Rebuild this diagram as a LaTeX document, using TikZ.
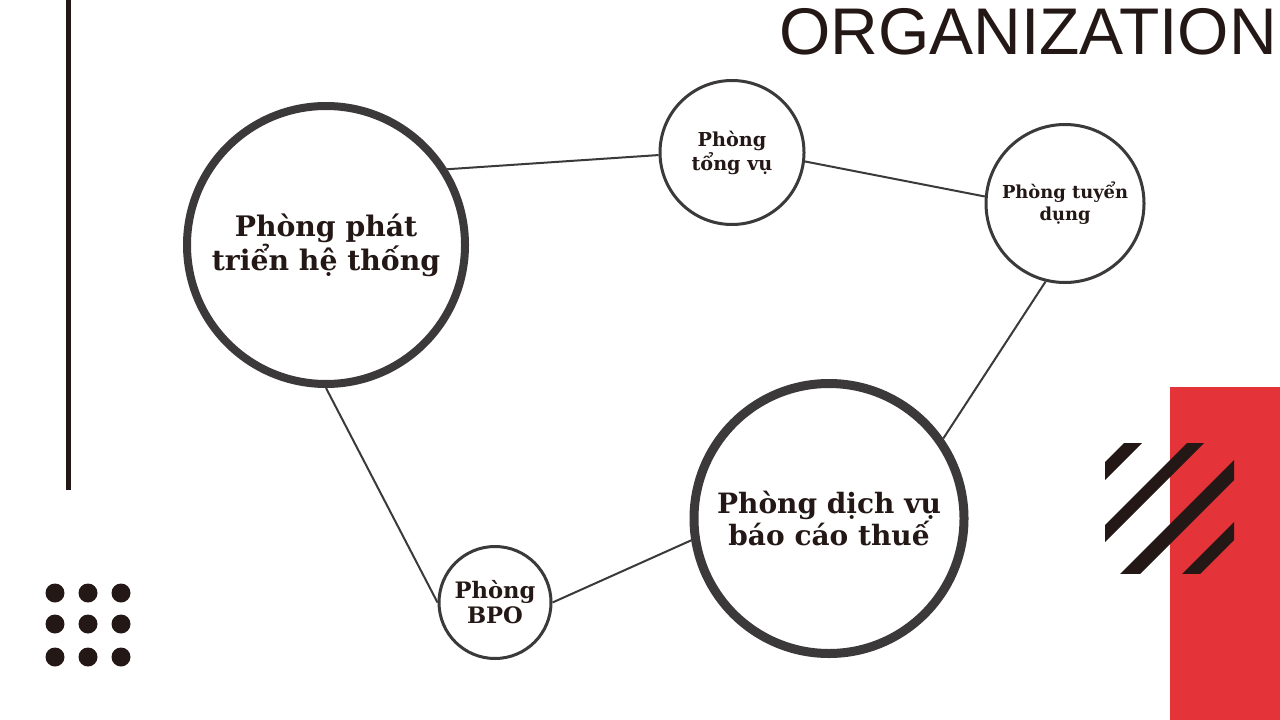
\documentclass[tikz,border=0pt]{standalone}
\usepackage{fontspec}
\usepackage{xcolor}
\usepackage{tikz}
\setmainfont{DejaVu Serif}
\newfontfamily\headfont{Liberation Sans}
\definecolor{inkdark}{HTML}{231815}
\definecolor{ringgray}{HTML}{3B393A}
\definecolor{accentred}{HTML}{E5333A}
\def\dept#1{\textbf{#1}}

\begin{document}
\begin{tikzpicture}[x=0.75pt,y=-0.75pt]
    \tikzstyle{every node}=[text=inkdark]
    \tikzstyle{bigunit}=[circle,draw=ringgray,inner sep=0pt,align=center]
    \tikzstyle{smallunit}=[circle,draw=ringgray,line width=2.25pt,inner sep=0pt,align=center]
    \tikzstyle{link}=[draw=ringgray,line width=1.5pt]
    \useasboundingbox[fill=white] (0,0) rectangle (1280,720);
    \fill[accentred] (1170,387) rectangle (1280,720);
    \draw[inkdark,line width=3.75pt] (68.5,0) -- (68.5,490);
    \foreach \px in {55,88,121}
      \foreach \py in {593,624,657}
        \fill[inkdark] (\px,\py) circle (9.5);
    \begin{scope}
      \clip (1105,443) rectangle (1234,573);
      \foreach \lo/\hi in {1567/1585,1630/1647,1694/1714,1756/1774}
        \fill[inkdark] (\lo-600,600) -- (\lo-400,400) -- (\hi-400,400) -- (\hi-600,600) -- cycle;
    \end{scope}
    \node[anchor=base east,inner sep=0pt,font=\headfont\fontsize{49.5}{52}\selectfont] (title)
      at (1277,54.5) {ORGANIZATION};
    \node[bigunit,line width=6pt,minimum size=208.5pt,font=\fontsize{21.2}{22.5}\selectfont] (dev)
      at (326,245) {\dept{Phòng phát}\\\dept{triển hệ thống}};
    \node[smallunit,minimum size=108pt,font=\fontsize{14.4}{18}\selectfont] (general)
      at (732,152.5) {\dept{Phòng}\\\dept{tổng vụ}};
    \node[smallunit,minimum size=118.5pt,font=\fontsize{13.4}{16.5}\selectfont] (recruit)
      at (1065,203.5) {\dept{Phòng tuyển}\\\dept{dụng}};
    \node[bigunit,line width=6.75pt,minimum size=202.5pt,font=\fontsize{21}{22.5}\selectfont] (tax)
      at (829,518.5) {\dept{Phòng dịch vụ}\\\dept{báo cáo thuế}};
    \node[smallunit,minimum size=84pt,font=\fontsize{17}{18.75}\selectfont] (bpo)
      at (495,602.5) {\dept{Phòng}\\\dept{BPO}};
    \draw[link] (dev.32.5) -- (general.182);
    \draw[link] (general.353.5) -- (recruit.175.4);
    \draw[link] (recruit.256) -- (tax.35.8);
    \draw[link] (tax.189.6) -- (bpo.0);
    \draw[link] (bpo.180) -- (dev.270.4);
\end{tikzpicture}
\end{document}
